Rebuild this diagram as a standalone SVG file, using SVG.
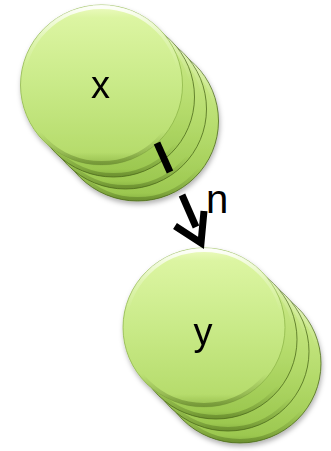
<svg xmlns="http://www.w3.org/2000/svg" width="331" height="451" viewBox="0 0 331 451">
<defs>
<linearGradient id="gFront" x1="0" y1="0" x2="0" y2="1">
<stop offset="0" stop-color="#eefbc4"/>
<stop offset="0.08" stop-color="#dcf5a2"/>
<stop offset="0.5" stop-color="#c9ea88"/>
<stop offset="0.92" stop-color="#b6dc6c"/>
<stop offset="1" stop-color="#94bc4c"/>
</linearGradient>
<linearGradient id="gBack" x1="0" y1="0" x2="0" y2="1">
<stop offset="0" stop-color="#d6f195"/>
<stop offset="0.6" stop-color="#b3da6a"/>
<stop offset="0.95" stop-color="#9cc850"/>
<stop offset="1" stop-color="#86b040"/>
</linearGradient>
<linearGradient id="rim" x1="0" y1="0" x2="0" y2="1">
<stop offset="0" stop-color="#ffffff" stop-opacity="0.9"/>
<stop offset="0.2" stop-color="#ffffff" stop-opacity="0.25"/>
<stop offset="0.4" stop-color="#ffffff" stop-opacity="0"/>
<stop offset="0.8" stop-color="#4d6b1c" stop-opacity="0"/>
<stop offset="1" stop-color="#4d6b1c" stop-opacity="0.45"/>
</linearGradient>
<filter id="sh" x="-20%" y="-20%" width="140%" height="140%">
<feDropShadow dx="1" dy="3" stdDeviation="2.5" flood-color="#000" flood-opacity="0.3"/>
</filter>
</defs>
<style>
.back{fill:url(#gBack);stroke:#4d6b1c;stroke-width:1;stroke-opacity:0.8}
.front{fill:url(#gFront);stroke:#8fb84a;stroke-width:0.8}
.bevel{fill:none;stroke:url(#rim);stroke-width:4}
.lbl{font-family:"Liberation Sans","Open Sans",sans-serif;fill:#000}
.con{stroke:#000;stroke-width:7;fill:none}
</style>
<g id="node-x" filter="url(#sh)">
<ellipse class="back" cx="137.5" cy="121" rx="81" ry="80"/>
<ellipse class="bevel" cx="137.5" cy="121" rx="79" ry="78"/>
<ellipse class="back" cx="125.5" cy="109" rx="81" ry="80"/>
<ellipse class="bevel" cx="125.5" cy="109" rx="79" ry="78"/>
<ellipse class="back" cx="113.5" cy="97" rx="81" ry="80"/>
<ellipse class="bevel" cx="113.5" cy="97" rx="79" ry="78"/>
<ellipse class="front" cx="101.5" cy="85" rx="81" ry="80"/>
<ellipse class="bevel" cx="101.5" cy="85" rx="79" ry="78"/>
<text class="lbl" x="100.5" y="98" font-size="38" text-anchor="middle">x</text>
</g>
<g id="node-y" filter="url(#sh)">
<ellipse class="back" cx="240" cy="363.5" rx="81" ry="79.5"/>
<ellipse class="bevel" cx="240" cy="363.5" rx="79" ry="77.5"/>
<ellipse class="back" cx="228" cy="351.5" rx="81" ry="79.5"/>
<ellipse class="bevel" cx="228" cy="351.5" rx="79" ry="77.5"/>
<ellipse class="back" cx="216" cy="339.5" rx="81" ry="79.5"/>
<ellipse class="bevel" cx="216" cy="339.5" rx="79" ry="77.5"/>
<ellipse class="front" cx="204" cy="327.5" rx="81" ry="79.5"/>
<ellipse class="bevel" cx="204" cy="327.5" rx="79" ry="77.5"/>
<text class="lbl" x="203" y="345" font-size="38" text-anchor="middle">y</text>
</g>
<g id="connectors">
<line class="con" x1="157" y1="143" x2="170" y2="172"/>
<line class="con" x1="182" y1="195" x2="196" y2="227"/>
<polyline class="con" points="175,226 201,243 204,211" stroke-linejoin="miter"/>
<text class="lbl" x="206" y="213" font-size="40">n</text>
</g>
</svg>
